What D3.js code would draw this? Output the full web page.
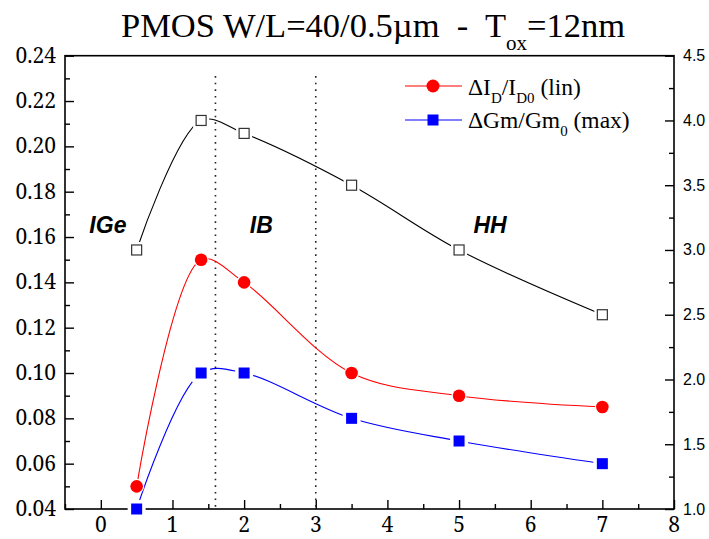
<!DOCTYPE html>
<html><head><meta charset="utf-8">
<script src="https://cdn.jsdelivr.net/npm/d3@7"></script>
<style>body{margin:0;background:#fff}svg{display:block}
.serif{font-family:'Liberation Serif','Times New Roman',serif}
.num{font-family:'Noto Serif','DejaVu Serif',serif}
.sans{font-family:'Liberation Sans',Arial,sans-serif}
</style>
</head><body>
<svg id="c" width="709" height="539"></svg>
<script>
const xVals = [0.5, 1.4, 2, 3.5, 5, 7];
const idLin = [0.05, 0.15, 0.14, 0.10, 0.09, 0.085];
const gmMax = [0.04, 0.10, 0.10, 0.08, 0.07, 0.06];
const rightSeries = [3.0, 4.0, 3.9, 3.5, 3.0, 2.5];
const leftTicks = [0.04,0.06,0.08,0.10,0.12,0.14,0.16,0.18,0.20,0.22,0.24];
const rightTicks = [1.0,1.5,2.0,2.5,3.0,3.5,4.0,4.5];
const xTicks = [0,1,2,3,4,5,6,7,8];
const dividers = [1.6, 3.0];
const regions = [{t:"IGe", x:-0.16}, {t:"IB", x:2.08}, {t:"HH", x:5.2}];

const svg = d3.select("#c");
const x = d3.scaleLinear().domain([-0.5, 8]).range([65, 674]);
const yL = d3.scaleLinear().domain([0.04, 0.24]).range([509, 55.7]);
const yR = d3.scaleLinear().domain([1.0, 4.5]).range([509, 55.7]);

// Title
const title = svg.append("text").attr("class","serif").attr("x", 373).attr("y", 37).attr("text-anchor","middle")
  .style("font-size","34.5px").attr("xml:space","preserve");
title.append("tspan").text("PMOS W/L=40/0.5\u00B5m  -  T");
title.append("tspan").style("font-size","21px").attr("dy",13).text("ox");
title.append("tspan").attr("dy",-13).text("=12nm");

// Frame
svg.append("rect").attr("x",65).attr("y",55.7).attr("width",609).attr("height",453.3)
  .attr("fill","none").attr("stroke","#000").attr("stroke-width",1.6);

// Left axis
const gL = svg.append("g").attr("transform","translate(65,0)");
gL.call(d3.axisRight(yL).tickValues(d3.range(0.04,0.2401,0.01)).tickSize(5).tickFormat(""));
gL.call(g=>g.select(".domain").remove());
gL.selectAll(".tick").filter(d=>leftTicks.some(v=>Math.abs(v-d)<1e-6)).select("line").attr("x2",9);
gL.selectAll("line").attr("stroke-width",1.4);
svg.append("g").selectAll("text").data(leftTicks).join("text").attr("class","num")
  .attr("x",56).attr("y",d=>yL(d)+7).attr("text-anchor","end").style("font-size","21px")
  .text(d=>d.toFixed(2));

// Right axis
const gR = svg.append("g").attr("transform","translate(674,0)");
gR.call(d3.axisLeft(yR).tickValues(d3.range(1.0,4.501,0.25)).tickSize(5).tickFormat(""));
gR.call(g=>g.select(".domain").remove());
gR.selectAll(".tick").filter(d=>rightTicks.some(v=>Math.abs(v-d)<1e-6)).select("line").attr("x2",-9);
gR.selectAll("line").attr("stroke-width",1.4);
svg.append("g").selectAll("text").data(rightTicks).join("text").attr("class","sans")
  .attr("x",683).attr("y",d=>yR(d)+5.5).style("font-size","16px")
  .text(d=>d.toFixed(1));

// Bottom axis
const gB = svg.append("g").attr("transform","translate(0,509)");
gB.call(d3.axisTop(x).tickValues(d3.range(-0.5,8.01,0.5)).tickSize(5).tickFormat(""));
gB.call(g=>g.select(".domain").remove());
gB.selectAll(".tick").filter(d=>xTicks.includes(d)).select("line").attr("y2",-9);
gB.selectAll("line").attr("stroke-width",1.4);
svg.append("g").selectAll("text").data(xTicks).join("text").attr("class","num")
  .attr("x",d=>x(d)).attr("y",532).attr("text-anchor","middle").style("font-size","21px")
  .text(d=>String(d));

// Dividers
svg.append("g").selectAll("line").data(dividers).join("line")
  .attr("x1",d=>x(d)).attr("x2",d=>x(d)).attr("y1",yL(0.231)).attr("y2",509)
  .attr("stroke","#222").attr("stroke-width",1.6).attr("stroke-dasharray","1.6,5");

// Region labels
svg.append("g").selectAll("text").data(regions).join("text").attr("class","sans")
  .attr("x",d=>x(d.x)).attr("y",233).style("font-size","23px")
  .attr("font-weight","bold").attr("font-style","italic").text(d=>d.t);

// Curves
const crv = d3.curveCatmullRom.alpha(0.5);
const lineL = d3.line().x((d,i)=>x(xVals[i])).y(d=>yL(d)).curve(crv);
const lineR = d3.line().x((d,i)=>x(xVals[i])).y(d=>yR(d)).curve(crv);
svg.append("path").attr("d",lineR(rightSeries)).attr("fill","none").attr("stroke","#000").attr("stroke-width",1.1);
svg.append("path").attr("d",lineL(idLin)).attr("fill","none").attr("stroke","red").attr("stroke-width",1.1);
svg.append("path").attr("d",lineL(gmMax)).attr("fill","none").attr("stroke","blue").attr("stroke-width",1.1);

// Halos
svg.append("g").selectAll("rect").data(rightSeries).join("rect")
  .attr("x",(d,i)=>x(xVals[i])-8).attr("y",d=>yR(d)-8).attr("width",16).attr("height",16).attr("fill","#fff");
svg.append("g").selectAll("rect").data(gmMax).join("rect")
  .attr("x",(d,i)=>x(xVals[i])-9).attr("y",d=>yL(d)-9).attr("width",18).attr("height",18).attr("fill","#fff");
svg.append("g").selectAll("circle").data(idLin).join("circle")
  .attr("cx",(d,i)=>x(xVals[i])).attr("cy",d=>yL(d)).attr("r",7.5).attr("fill","#fff");

// Markers
svg.append("g").selectAll("rect").data(rightSeries).join("rect")
  .attr("x",(d,i)=>x(xVals[i])-5).attr("y",d=>yR(d)-5).attr("width",10).attr("height",10)
  .attr("fill","#fff").attr("stroke","#333").attr("stroke-width",1.2);
svg.append("g").selectAll("rect").data(gmMax).join("rect")
  .attr("x",(d,i)=>x(xVals[i])-5.5).attr("y",d=>yL(d)-5.5).attr("width",11).attr("height",11).attr("fill","blue");
svg.append("g").selectAll("circle").data(idLin).join("circle")
  .attr("cx",(d,i)=>x(xVals[i])).attr("cy",d=>yL(d)).attr("r",6.3).attr("fill","red");

// Legend
const lg = svg.append("g");
lg.append("line").attr("x1",405).attr("x2",462).attr("y1",86).attr("y2",86).attr("stroke","red").attr("stroke-width",1.1);
lg.append("circle").attr("cx",433).attr("cy",86).attr("r",6.5).attr("fill","red");
lg.append("line").attr("x1",405).attr("x2",462).attr("y1",120).attr("y2",120).attr("stroke","blue").attr("stroke-width",1.1);
lg.append("rect").attr("x",427.5).attr("y",114.5).attr("width",11).attr("height",11).attr("fill","blue");
const t1 = lg.append("text").attr("class","serif").attr("x",468).attr("y",95).style("font-size","23.5px").attr("xml:space","preserve");
t1.append("tspan").text("\u0394I");
t1.append("tspan").style("font-size","15px").attr("dy",8).text("D");
t1.append("tspan").attr("dy",-8).text("/I");
t1.append("tspan").style("font-size","15px").attr("dy",8).text("D0");
t1.append("tspan").attr("dy",-8).text(" (lin)");
const t2 = lg.append("text").attr("class","serif").attr("x",468).attr("y",128).style("font-size","23.5px").attr("xml:space","preserve");
t2.append("tspan").text("\u0394Gm/Gm");
t2.append("tspan").style("font-size","15px").attr("dy",8).text("0");
t2.append("tspan").attr("dy",-8).text(" (max)");
</script>
</body></html>
